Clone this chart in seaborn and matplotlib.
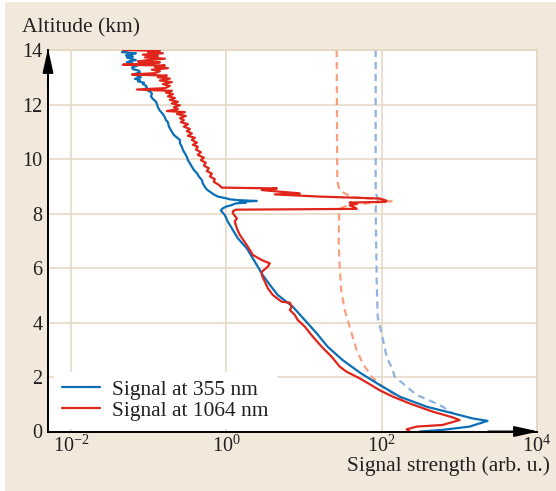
import numpy as np
import matplotlib
matplotlib.use("Agg")
import matplotlib.pyplot as plt
from matplotlib.lines import Line2D
from matplotlib.patches import Rectangle
from matplotlib.ticker import NullLocator
import seaborn as sns

# ---- lidar profiles: altitude (km) and log10 of signal strength (arb. u.) ----
alt_355 = [14.00, 13.96, 13.92, 13.88, 13.85, 13.80, 13.76, 13.73, 13.68, 13.63,
           13.58, 13.55, 13.50, 13.46, 13.42, 13.36, 13.30, 13.24, 13.18, 13.12,
           13.06, 13.00, 12.94, 12.90, 12.85, 12.80, 12.75, 12.69, 12.63, 12.57,
           12.51, 12.45, 12.39, 12.30, 12.20, 12.11, 12.02, 11.90, 11.77, 11.65,
           11.53, 11.43, 11.35, 11.20, 11.06, 10.88, 10.70, 10.58, 10.45, 10.33,
           10.21, 10.08, 9.96, 9.84, 9.72, 9.60, 9.48, 9.36, 9.23, 9.10,
           8.98, 8.88, 8.80, 8.70, 8.62, 8.56, 8.52, 8.49, 8.46, 8.43,
           8.40, 8.37, 8.31, 8.25, 8.19, 8.12, 8.07, 7.94, 7.70, 7.46,
           7.09, 6.72, 6.23, 5.74, 5.38, 5.01, 4.58, 4.09, 3.60, 3.11,
           2.62, 2.14, 1.71, 1.28, 0.91, 0.67, 0.48, 0.39, 0.18, 0.06, 0.00]
log_sig_355 = [-1.267, -1.318, -1.344, -1.164, -1.241, -1.293, -1.203, -1.280, -1.228, -1.164,
               -1.254, -1.280, -1.203, -1.228, -1.151, -1.215, -1.203, -1.125, -1.113, -1.177,
               -1.151, -1.100, -1.177, -1.113, -1.138, -1.061, -1.074, -1.035, -1.023, -1.048,
               -1.010, -0.971, -0.958, -0.971, -0.945, -0.907, -0.894, -0.881, -0.855, -0.817,
               -0.791, -0.778, -0.752, -0.740, -0.714, -0.675, -0.598, -0.598, -0.572, -0.559,
               -0.534, -0.508, -0.495, -0.469, -0.444, -0.418, -0.379, -0.354, -0.315, -0.302,
               -0.277, -0.251, -0.212, -0.161, -0.109, -0.006, 0.045, 0.148, 0.392, 0.174,
               0.251, 0.122, 0.071, -0.006, -0.045, -0.071, -0.058, -0.019, 0.019, 0.071,
               0.148, 0.264, 0.367, 0.469, 0.560, 0.662, 0.855, 1.010, 1.164, 1.305,
               1.498, 1.730, 1.974, 2.232, 2.579, 2.913, 3.170, 3.363, 3.132, 2.785, 2.489]

alt_1064 = [14.00, 13.97, 13.93, 13.88, 13.83, 13.78, 13.73, 13.68, 13.63, 13.58,
            13.55, 13.50, 13.46, 13.43, 13.38, 13.33, 13.28, 13.22, 13.15, 13.10,
            13.06, 13.00, 12.95, 12.88, 12.82, 12.75, 12.68, 12.60, 12.55, 12.50,
            12.44, 12.38, 12.30, 12.24, 12.17, 12.10, 12.04, 11.97, 11.90, 11.83,
            11.76, 11.72, 11.65, 11.58, 11.50, 11.43, 11.35, 11.28, 11.19, 11.10,
            11.02, 10.94, 10.85, 10.78, 10.70, 10.60, 10.52, 10.45, 10.35, 10.25,
            10.15, 10.05, 9.96, 9.86, 9.76, 9.66, 9.56, 9.46, 9.36, 9.26,
            9.16, 9.05, 8.95, 8.92, 8.86, 8.80, 8.74, 8.70, 8.62, 8.55,
            8.47, 8.43, 8.40, 8.36, 8.30, 8.22, 8.17, 8.14, 8.08, 8.01,
            7.82, 7.70, 7.46, 7.21, 6.84, 6.48, 6.29, 6.17, 6.05, 5.86,
            5.74, 5.50, 5.26, 5.01, 4.76, 4.73, 4.58, 4.46, 4.28, 4.09,
            3.85, 3.48, 3.11, 2.74, 2.38, 2.19, 1.95, 1.71, 1.52, 1.28,
            1.03, 0.73, 0.52, 0.42, 0.24, 0.18, 0.08, 0.00]
log_sig_1064 = [-1.331, -0.855, -1.010, -0.817, -1.074, -0.881, -1.048, -0.791, -1.010, -1.138,
                -0.855, -0.984, -1.331, -0.791, -0.920, -0.752, -0.958, -0.855, -0.920, -1.215,
                -0.765, -0.881, -0.727, -0.855, -0.701, -0.817, -0.727, -0.791, -1.151, -0.701,
                -0.778, -0.688, -0.752, -0.662, -0.727, -0.624, -0.701, -0.598, -0.675, -0.624,
                -0.765, -0.534, -0.637, -0.521, -0.598, -0.547, -0.585, -0.495, -0.547, -0.469,
                -0.508, -0.444, -0.495, -0.405, -0.444, -0.379, -0.431, -0.367, -0.392, -0.328,
                -0.367, -0.289, -0.328, -0.264, -0.289, -0.225, -0.251, -0.186, -0.212, -0.148,
                -0.161, -0.096, -0.058, 0.650, 0.457, 0.688, 0.945, 0.624, 1.203, 1.974,
                2.064, 2.051, 1.588, 1.678, 1.588, 1.653, 1.678, 0.122, 0.084, 0.084,
                0.135, 0.109, 0.135, 0.174, 0.264, 0.341, 0.457, 0.560, 0.534, 0.457,
                0.457, 0.495, 0.534, 0.598, 0.714, 0.817, 0.842, 0.817, 0.881, 0.920,
                1.010, 1.113, 1.228, 1.357, 1.460, 1.550, 1.717, 1.860, 1.970, 2.142,
                2.360, 2.656, 2.913, 3.003, 2.785, 2.450, 2.322, 2.360]

# corrected profiles (dashed)
alt_355_corr = [14.00, 8.80, 8.50, 8.20, 5.50, 4.20, 3.60, 2.74, 2.26, 2.01,
                1.77, 1.34, 1.09, 0.91, 0.67]
log_sig_355_corr = [1.923, 1.923, 1.949, 1.923, 1.936, 1.949, 2.000, 2.064, 2.142, 2.167,
                    2.270, 2.450, 2.656, 2.785, 2.913]

alt_1064_corr = [14.00, 9.20, 8.98, 8.85, 8.74, 8.60, 8.52, 8.45, 8.40, 8.35,
                 8.28, 8.20, 8.10, 7.00, 6.00, 5.19, 4.46, 3.72, 2.99, 2.50,
                 2.01, 1.64, 1.40, 1.16]
log_sig_1064_corr = [1.421, 1.428, 1.447, 1.460, 1.524, 1.627, 1.974, 2.129, 1.910, 1.717,
                     1.550, 1.473, 1.453, 1.447, 1.460, 1.479, 1.524, 1.601, 1.678, 1.756,
                     1.871, 2.013, 2.142, 2.270]

x_ticks = [1e-2, 1e0, 1e2, 1e4]
y_ticks = [0, 2, 4, 6, 8, 10, 12, 14]
legend_labels = ["Signal at 355 nm", "Signal at 1064 nm"]

BLUE = "#0a6fb7"
RED = "#e0251b"
BLUE_LIGHT = "#8fb3e0"
RED_LIGHT = "#f8a07e"
PANEL = "#f2e9dc"
GRID = "#e6d6c1"
INK = "#231f20"

sns.set_style("white")
plt.rcParams["font.family"] = ["Liberation Serif", "DejaVu Serif"]
plt.rcParams["mathtext.fontset"] = "stix"

fig = plt.figure(figsize=(5.56, 4.91), dpi=100, facecolor="white")
fig.patches.append(Rectangle((5 / 556, 0), 1, 489 / 491, transform=fig.transFigure,
                             facecolor=PANEL, edgecolor="none", zorder=-10))
ax = fig.add_axes([48 / 556, 59.5 / 491, 489 / 556, 381.5 / 491])
ax.set_facecolor("white")

lw = 1.6
dash = (0, (3.2, 2.2))
sns.lineplot(x=np.power(10.0, log_sig_1064_corr), y=alt_1064_corr, sort=False, estimator=None,
             color=RED_LIGHT, lw=lw, linestyle=dash, ax=ax, zorder=2)
sns.lineplot(x=np.power(10.0, log_sig_355_corr), y=alt_355_corr, sort=False, estimator=None,
             color=BLUE_LIGHT, lw=lw, linestyle=dash, ax=ax, zorder=2)
sns.lineplot(x=np.power(10.0, log_sig_355), y=alt_355, sort=False, estimator=None,
             color=BLUE, lw=lw, ax=ax, zorder=3)
sns.lineplot(x=np.power(10.0, log_sig_1064), y=alt_1064, sort=False, estimator=None,
             color=RED, lw=lw, ax=ax, zorder=4)

ax.set_xscale("log")
ax.set_xlim(10 ** -2.296, 1e4)
ax.set_ylim(0, 14)
ax.set_xticks(x_ticks)
ax.xaxis.set_minor_locator(NullLocator())
ax.set_yticks(y_ticks)
ax.set_xlabel("")
ax.set_ylabel("")
ax.grid(True, color=GRID, lw=1.1, zorder=0)
ax.set_axisbelow(True)
ax.tick_params(axis="both", length=0, labelsize=14.5, colors=INK)
ax.tick_params(axis="x", pad=3)
ax.tick_params(axis="y", pad=4)

for side in ("top", "right"):
    ax.spines[side].set_color(GRID)
    ax.spines[side].set_linewidth(1.1)
for side in ("left", "bottom"):
    ax.spines[side].set_color("black")
    ax.spines[side].set_linewidth(1.4)
    ax.spines[side].set_zorder(6)

# arrow heads on the two axes
arrow = dict(arrowstyle="-|>,head_length=0.72,head_width=0.16", color="black",
             lw=1.4, shrinkA=0, shrinkB=0, mutation_scale=20)
ax.annotate("", xy=(0, 1.004), xytext=(0, 0.9), xycoords="axes fraction",
            arrowprops=arrow, annotation_clip=False, zorder=7)
ax.annotate("", xy=(1.003, 0), xytext=(0.9, 0), xycoords="axes fraction",
            arrowprops=arrow, annotation_clip=False, zorder=7)

fig.text(22 / 556, 1 - 28 / 491, "Altitude (km)", ha="left", va="center",
         fontsize=15.5, color=INK)
fig.text(550 / 556, 1 - 466 / 491, "Signal strength (arb. u.)", ha="right", va="center",
         fontsize=15.5, color=INK)

handles = [Line2D([], [], color=BLUE, lw=lw), Line2D([], [], color=RED, lw=lw)]
leg = ax.legend(handles, legend_labels, loc="lower left", bbox_to_anchor=(0.0123, 0.008),
                borderaxespad=0, frameon=True, fancybox=False, framealpha=1,
                facecolor="white", edgecolor="white", fontsize=15.5,
                handlelength=1.8, handletextpad=0.55, labelspacing=0.05,
                borderpad=0.35)
leg.set_zorder(5)
for t in leg.get_texts():
    t.set_color(INK)

fig.savefig("out.png", dpi=100, facecolor=fig.get_facecolor())
